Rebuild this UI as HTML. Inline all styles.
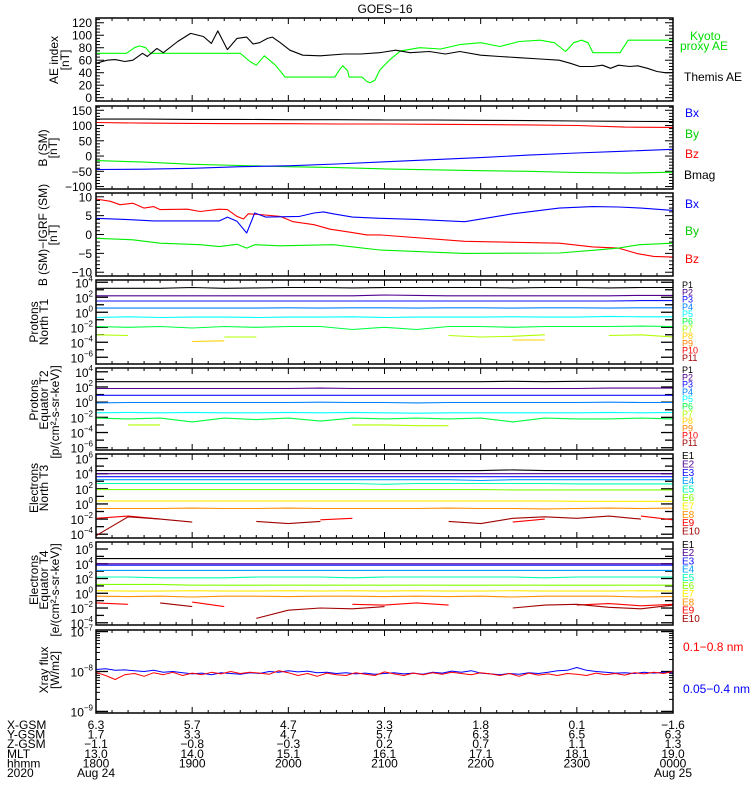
<!DOCTYPE html>
<html><head><meta charset="utf-8"><style>
html,body{margin:0;padding:0;background:#fff;}
svg{display:block;font-family:"Liberation Sans",sans-serif;}
</style></head><body>
<svg id="c" width="750" height="800" xmlns="http://www.w3.org/2000/svg">
<rect width="750" height="800" fill="#fff"/>
<text x="385" y="13" font-size="12" text-anchor="middle">GOES−16</text>
</svg>
<script>
// ---------- data ----------
const aeThemisMin=[0,7,12,18,23,29,32,38,42,51,59,67,72,76,82,88,94,98,102,107,110,115,121,129,140,155,165,177,187,196,208,218,227,240,252,264,277,289,296,302,310,316,321,326,333,338,344,350,355,360];
const aeThemisVal=[55,60,61,58,60,71,66,79,72,90,103,98,87,107,77,95,97,86,88,95,97,88,76,68,67,70,70,72,76,72,74,70,74,68,66,64,62,60,55,50,50,52,47,52,50,51,47,42,40,40];
const aeKyotoMin=[0,19,24,27,31,34,90,96,100,105,112,118,149,152,154,157,158,166,169,171,174,177,183,190,202,215,227,240,252,264,277,286,289,293,298,303,307,310,327,332,360];
const aeKyotoVal=[71,71,80,83,80,71,71,58,52,67,52,33,33,45,51,43,33,33,26,24,28,44,60,75,80,78,85,88,82,90,92,88,82,74,88,92,88,72,72,92,92];
const bMin=[0,30,60,90,120,150,180,210,240,270,300,330,360];
const bmagVal=[121,121,120,120,119,119,118,118,117,116,115,114,113];
const bzVal=[110,108,107,106,106,105,105,104,103,102,100,95,94];
const bxVal=[-44,-43,-40,-35,-32,-26,-19,-12,-5,3,10,16,22];
const byVal=[-15,-20,-27,-31,-35,-38,-42,-45,-48,-50,-54,-56,-53];
const dBzMin=[0,9,15,23,30,36,40,57,65,77,82,88,92,95,102,115,123,136,146,160,169,177,230,289,310,326,338,348,360];
const dBzVal=[9.4,8.8,7.9,8.3,7,7.4,6.6,6.7,6.1,6.7,6.6,4.8,4.1,5.5,5.3,4.8,3.4,2.6,1.4,0.5,-0.1,-0.1,-1.8,-2.3,-3.3,-3.6,-5.1,-5.8,-6];
const dBxMin=[0,23,36,77,82,88,94,99,106,127,136,142,148,160,177,200,230,260,289,310,326,340,360];
const dBxVal=[4.3,3.9,3.6,3.6,4.6,3.5,0.4,5.7,4.6,4.8,5.7,6,5.5,4.6,4.3,4,3.4,5.5,7,7.4,7.3,7,6.4];
const dByMin=[0,23,40,65,77,88,94,99,115,148,177,230,289,310,326,339,360];
const dByVal=[-1,-1.4,-2.3,-2.7,-3.2,-2.6,-3.6,-2.7,-3,-2.7,-4.1,-5,-4.9,-4.2,-3.6,-2.7,-2.3];
const pMin=[0,20,40,60,80,100,120,140,160,180,200,220,240,260,280,300,320,340,360];
const t1P1=[3.2,3.2,3.2,3.3,3.2,3.25,3.3,3.3,3.25,3.3,3.3,3.3,3.3,3.25,3.3,3.3,3.25,3.3,3.3];
const t1P2=[2.2,2.2,2.2,2.2,2.2,2.2,2.2,2.2,2.2,2.3,2.25,2.2,2.2,2.2,2.2,2.2,2.2,2.25,2.25];
const t1P3=[1.5,1.5,1.5,1.5,1.5,1.5,1.5,1.5,1.5,1.5,1.5,1.5,1.5,1.5,1.5,1.5,1.5,1.55,1.55];
const t1P4=[0.55,0.55,0.55,0.55,0.55,0.55,0.6,0.55,0.6,0.6,0.55,0.6,0.6,0.55,0.6,0.6,0.55,0.6,0.6];
const t1P5=[-0.7,-0.6,-0.7,-0.65,-0.65,-0.7,-0.65,-0.65,-0.6,-0.7,-0.65,-0.65,-0.65,-0.6,-0.65,-0.65,-0.55,-0.6,-0.6];
const t1P6=[-1.9,-2.0,-1.9,-2.1,-1.9,-2.0,-1.9,-1.9,-2.3,-2.0,-2.3,-1.9,-1.9,-2.0,-1.9,-1.9,-1.9,-1.85,-1.9];
const t1P7=[-3.0,-3.1,null,null,-3.3,-3.3,null,null,-3.3,null,null,-3.1,-3.3,-3.2,-3.0,null,-3.1,-3.0,-3.3];
const t1P8=[null,null,null,-3.9,-3.8,null,null,-3.9,null,null,null,null,null,-3.7,-3.7,null,null,null,null];
const t2P1=[2.7,2.7,2.7,2.7,2.7,2.7,2.7,2.7,2.7,2.7,2.7,2.7,2.7,2.75,2.7,2.75,2.75,2.75,2.75];
const t2P2=[1.8,1.8,1.8,1.8,1.8,1.8,1.8,1.85,1.8,1.8,1.8,1.8,1.8,1.8,1.8,1.8,1.85,1.85,1.85];
const t2P3=[0.9,0.9,0.9,0.9,0.9,0.9,0.9,0.9,0.9,0.9,0.9,0.9,0.9,0.9,0.9,0.9,0.9,0.9,0.9];
const t2P4=[-0.1,-0.05,-0.05,-0.05,-0.05,-0.05,-0.05,0.0,-0.05,-0.05,-0.1,-0.05,-0.05,-0.05,-0.05,-0.05,0.0,-0.05,-0.05];
const t2P5=[-1.4,-1.35,-1.4,-1.35,-1.4,-1.4,-1.35,-1.4,-1.35,-1.4,-1.45,-1.4,-1.4,-1.4,-1.4,-1.4,-1.35,-1.4,-1.35];
const t2P6=[-2.1,-2.2,-2.1,-2.6,-2.1,-2.3,-2.1,-2.5,-2.1,-2.2,-2.1,-2.2,-2.1,-2.6,-2.1,-2.2,-2.2,-2.1,-2.2];
const t2P7=[null,-3.0,-3.0,null,null,-3.0,null,null,-3.0,-3.0,-3.1,-3.1,null,-3.0,null,null,null,null,null];
const t2P8=[null,null,null,-3.6,null,null,-3.6,null,null,null,null,null,null,null,null,null,-3.6,null,null];
const t3E1=[4.4,4.4,4.4,4.4,4.4,4.4,4.4,4.4,4.4,4.4,4.4,4.4,4.4,4.5,4.4,4.4,4.4,4.4,4.4];
const t3E2=[4.0,4.0,4.0,4.0,4.0,4.0,4.0,4.0,4.0,4.0,4.0,4.0,4.0,4.0,4.0,4.0,4.0,4.0,4.0];
const t3E3=[3.6,3.6,3.6,3.6,3.6,3.6,3.6,3.6,3.6,3.6,3.6,3.6,3.6,3.6,3.6,3.6,3.6,3.6,3.6];
const t3E4=[3.2,3.2,3.2,3.2,3.2,3.2,3.2,3.2,3.2,3.2,3.2,3.2,3.1,3.2,3.2,3.2,3.2,3.2,3.2];
const t3E5=[2.7,2.7,2.7,2.7,2.7,2.7,2.7,2.7,2.7,2.6,2.7,2.7,2.7,2.7,2.7,2.65,2.65,2.65,2.65];
const t3E6=[1.9,1.9,1.9,1.9,1.9,1.9,1.9,1.9,1.9,1.9,1.9,1.9,1.9,1.85,1.85,1.85,1.85,1.85,1.85];
const t3E7=[0.4,0.4,0.4,0.4,0.4,0.4,0.4,0.4,0.4,0.4,0.4,0.4,0.4,0.4,0.4,0.35,0.35,0.35,0.35];
const t3E8=[-0.6,-0.6,-0.6,-0.55,-0.6,-0.6,-0.55,-0.6,-0.6,-0.6,-0.6,-0.55,-0.6,-0.6,-0.65,-0.6,-0.55,-0.6,-0.55];
const t3E9=[-1.9,-1.6,-2.0,null,null,null,null,-2.1,-1.9,null,-2.3,null,null,-2.4,-2.0,null,null,-1.6,-2.1];
const t3E10=[-4.2,-1.7,-2.0,-2.4,null,-2.3,-2.6,-2.3,null,null,null,-2.3,-2.6,-1.9,-1.7,-1.9,-1.6,-2.0,null];
const t4E1=[4.7,4.7,4.7,4.7,4.7,4.7,4.7,4.7,4.7,4.7,4.7,4.7,4.7,4.7,4.7,4.7,4.7,4.7,4.7];
const t4E2=[4.0,4.0,4.0,4.0,4.0,4.0,4.0,4.0,4.0,4.0,4.0,4.0,4.0,4.0,4.0,4.0,4.0,4.0,4.0];
const t4E3=[3.8,3.8,3.8,3.8,3.8,3.8,3.8,3.8,3.8,3.8,3.8,3.8,3.8,3.8,3.8,3.8,3.8,3.8,3.8];
const t4E4=[3.1,3.1,3.1,3.1,3.1,3.1,3.1,3.1,3.1,3.1,3.1,3.1,3.1,3.1,3.1,3.1,3.1,3.1,3.1];
const t4E5=[2.2,2.2,2.1,2.1,2.1,2.2,2.2,2.2,2.1,2.2,2.2,2.2,2.2,2.2,2.1,2.2,2.2,2.2,2.2];
const t4E6=[1.2,1.2,1.2,1.1,1.1,1.1,1.1,1.1,1.1,1.1,1.1,1.1,1.1,1.1,1.1,1.1,1.1,1.1,1.1];
const t4E7=[0.35,0.3,0.3,0.35,0.3,0.3,0.35,0.3,0.35,0.3,0.35,0.3,0.3,0.35,0.3,0.3,0.3,0.35,0.3];
const t4E8=[-0.4,-0.45,-0.4,-0.5,-0.4,-0.4,-0.45,-0.4,-0.4,-0.45,-0.4,-0.45,-0.4,-0.5,-0.4,-0.4,-0.4,-0.5,-0.45];
const t4E9=[-1.3,-1.5,null,-1.2,-1.8,null,null,null,-1.5,-1.6,-1.3,-1.6,null,-1.8,null,-1.6,-1.4,-1.7,-1.5];
const t4E10=[-1.6,null,-1.3,-1.8,null,-3.4,-2.3,-2.0,-2.1,-1.8,null,-2.6,null,-2.0,-1.6,-1.5,-1.9,-2.1,-1.6];
const xMin=[];for(let i=0;i<=60;i++)xMin.push(i*6);
const xrayLong=[-8.02,-8.1,-8.2,-8.08,-8.05,-8.12,-8.03,-8.08,-8.02,-8.1,-8.04,-8.08,-8.02,-8.06,-8.0,-8.05,-8.02,-8.04,-8.07,-7.98,-8.03,-8.1,-8.05,-8.12,-8.04,-8.08,-8.1,-8.03,-8.07,-8.1,-8.01,-8.06,-8.1,-8.04,-8.08,-8.03,-8.07,-8.02,-8.05,-8.08,-8.03,-8.06,-8.1,-8.05,-8.12,-8.04,-8.09,-8.06,-8.1,-8.05,-8.07,-8.1,-8.04,-8.08,-8.05,-8.09,-8.03,-8.06,-8.02,-8.05,-8.0];
const xrayShort=[-7.95,-7.93,-7.97,-7.96,-7.98,-8.0,-7.97,-8.02,-8.0,-8.03,-8.06,-8.04,-8.08,-8.03,-8.05,-8.07,-8.03,-8.05,-8.0,-8.02,-7.98,-8.01,-7.99,-8.03,-8.02,-8.05,-8.03,-8.06,-8.04,-8.07,-8.05,-8.03,-8.06,-8.04,-8.07,-8.02,-8.04,-7.99,-8.02,-7.98,-8.04,-8.06,-8.08,-8.05,-8.07,-8.03,-8.05,-8.02,-7.98,-7.97,-7.9,-7.97,-8.0,-8.02,-8.04,-8.03,-8.05,-8.02,-8.04,-8.02,-8.03];
const hourLabels=["1800","1900","2000","2100","2200","2300","0000"];
const xgsm=["6.3","5.7","4.7","3.3","1.8","0.1","−1.6"];
const ygsm=["1.7","3.3","4.7","5.7","6.3","6.5","6.3"];
const zgsm=["−1.1","−0.8","−0.3","0.2","0.7","1.1","1.3"];
const mlt=["13.0","14.0","15.1","16.1","17.1","18.1","19.0"];

// ---------- drawing ----------
const svg=document.getElementById('c');
const NS='http://www.w3.org/2000/svg';
const X0=96,X1=673;
const xs=m=>X0+(X1-X0)*m/360;
function el(tag,attrs,parent){const e=document.createElementNS(NS,tag);for(const k in attrs)e.setAttribute(k,attrs[k]);(parent||svg).appendChild(e);return e;}
function txt(x,y,s,size,color,anchor,parent){const t=el('text',{x:x,y:y,'font-size':size,fill:color||'#000','text-anchor':anchor||'start'},parent);t.textContent=s;return t;}

function panel(name,top,bot,ymin,ymax,log){
  const g=el('g',{});
  
  
  const ys=v=>bot-(bot-top)*((v-ymin)/(ymax-ymin));
  for(let m=0;m<=360;m+=10){const x=xs(m);const L=(m%60===0)?6:3;
    el('line',{x1:x,y1:bot,x2:x,y2:bot-L,stroke:'#000','stroke-width':1},g);
    el('line',{x1:x,y1:top,x2:x,y2:top+L,stroke:'#000','stroke-width':1},g);}
  return {g,ys,top,bot,ymin,ymax};
}
function frame(p){el('rect',{x:X0,y:p.top,width:X1-X0,height:p.bot-p.top,fill:'none',stroke:'#000','stroke-width':1.5},p.g);}
function yTicksLin(p,major,minor,labelStep){
  const start=Math.ceil(p.ymin/minor)*minor;
  for(let v=start;v<=p.ymax+1e-9;v+=minor){const y=p.ys(v);const isM=Math.abs(v/major-Math.round(v/major))<1e-6;const L=isM?8:4;
    el('line',{x1:X0,y1:y,x2:X0+L,y2:y,stroke:'#000'},p.g);el('line',{x1:X1,y1:y,x2:X1-L,y2:y,stroke:'#000'},p.g);
    if(Math.abs(v/labelStep-Math.round(v/labelStep))<1e-6){const lab=txt(X0-4,y+4.5,String(Math.round(v)).replace('-','−'),12,'#000','end',p.g);
      
      }}
}
function yTicksLog(p,labels,minorLog){
  for(let d=Math.ceil(p.ymin);d<=Math.floor(p.ymax);d++){const y=p.ys(d);const lab=labels.includes(d);const L=lab?12:8;
    el('line',{x1:X0,y1:y,x2:X0+L,y2:y,stroke:'#000','stroke-width':1.3},p.g);el('line',{x1:X1,y1:y,x2:X1-L,y2:y,stroke:'#000','stroke-width':1.3},p.g);
    if(minorLog){for(let k=2;k<=9;k++){const yy=p.ys(d+Math.log10(k));if(yy<p.top)continue;el('line',{x1:X0,y1:yy,x2:X0+4,y2:yy,stroke:'#000'},p.g);el('line',{x1:X1,y1:yy,x2:X1-4,y2:yy,stroke:'#000'},p.g);}}
    if(lab){const t=el('text',{x:X0-3,y:y+5,'font-size':12,'text-anchor':'end'},p.g);
      
      
      const a=el('tspan',{},t);a.textContent='10';const b=el('tspan',{dy:-6,'font-size':8},t);b.textContent=String(d).replace('-','−');}}
}
function series(p,name,mins,vals,color,w){
  let segs=[],cur=[];
  for(let i=0;i<vals.length;i++){if(vals[i]===null){if(cur.length)segs.push(cur);cur=[];continue;}
    cur.push(xs(mins[i]).toFixed(1)+','+p.ys(vals[i]).toFixed(1));}
  if(cur.length)segs.push(cur);
  segs.forEach(s=>{if(s.length<2)return;const l=el('polyline',{points:s.join(' '),fill:'none',stroke:color,'stroke-width':w||1.1,'stroke-linejoin':'round'},p.g);
    
    });
}
function ytitle(lines,cx,cy,xs0){lines.forEach((s,i)=>{const t=txt(0,0,s,12,'#000','middle');t.setAttribute('transform','translate('+xs0[i]+','+cy[i]+') rotate(-90)');
  
  });}
function legend(items){items.forEach(it=>{const t=txt(it[1],it[2],it[0],it[4]||11,it[3],'start');
  
  });}

let p=panel('ae-panel',18,101,-5.3,127.6,false);
yTicksLin(p,20,5,20);
series(p,'kyoto-ae-line',aeKyotoMin,aeKyotoVal,'#00ff00');
series(p,'themis-ae-line',aeThemisMin,aeThemisVal,'#000');
frame(p);
ytitle(['AE index','[nT]'],0,[60,60],[58,69]);
legend([['Kyoto',690,40,'#00dd00',12],['proxy AE',680,50,'#00dd00',12],['Themis AE',684,81,'#000',12]]);

p=panel('b-sm-panel',106,189,-108,164,false);
yTicksLin(p,50,10,50);
series(p,'bmag-line',bMin,bmagVal,'#000');
series(p,'bz-line',bMin,bzVal,'#ff0000');
series(p,'by-line',bMin,byVal,'#00ee00');
series(p,'bx-line',bMin,bxVal,'#0000ff');
frame(p);
ytitle(['B (SM)','[nT]'],0,[148,148],[47,57]);
legend([['Bx',685,117,'#0000ff',12],['By',685,138,'#00cc00',12],['Bz',685,158,'#ff0000',12],['Bmag',684,179,'#000',12]]);

p=panel('b-igrf-panel',193,276,-11,11,false);
yTicksLin(p,5,1,5);
series(p,'dbz-line',dBzMin,dBzVal,'#ff0000');
series(p,'dbx-line',dBxMin,dBxVal,'#0000ff');
series(p,'dby-line',dByMin,dByVal,'#00ee00');
frame(p);
ytitle(['B (SM)−IGRF (SM)','[nT]'],0,[235,235],[47,57]);
legend([['Bx',685,208,'#0000ff',12],['By',685,235,'#00cc00',12],['Bz',685,263,'#ff0000',12]]);

const pCols=['#000','#500090','#1010ff','#0080ff','#00ffff','#00ff40','#b0ff00','#ffd000','#ff8000','#ff0000','#a00000'];
const eCols=['#000','#500090','#1010ff','#00a0ff','#00ffb0','#80ff00','#ffee00','#ff9000','#ff0000','#a00000'];

p=panel('protons-t1-panel',280,364,-6.9,4.3,true);
yTicksLog(p,[4,2,0,-2,-4,-6],false);
[t1P1,t1P2,t1P3,t1P4,t1P5,t1P6,t1P7,t1P8].forEach((a,i)=>series(p,'t1-p'+(i+1)+'-line',pMin,a,pCols[i]));
frame(p);
ytitle(['Protons','North T1'],0,[322,322],[38,48]);
legend(pCols.map((c,i)=>['P'+(i+1),682,288+i*7.3,c,9]));

p=panel('protons-t2-panel',368,450,-6.3,4.5,true);
yTicksLog(p,[4,2,0,-2,-4,-6],false);
[t2P1,t2P2,t2P3,t2P4,t2P5,t2P6,t2P7,t2P8].forEach((a,i)=>series(p,'t2-p'+(i+1)+'-line',pMin,a,pCols[i]));
frame(p);
ytitle(['Protons','Equator T2','[p/(cm²-s-sr-keV)]'],0,[400,400,412],[38,48,59]);
legend(pCols.map((c,i)=>['P'+(i+1),682,373+i*7.3,c,9]));

p=panel('electrons-t3-panel',454,538,-4.5,6.6,true);
yTicksLog(p,[6,4,2,0,-2,-4],false);
[t3E1,t3E2,t3E3,t3E4,t3E5,t3E6,t3E7,t3E8,t3E9,t3E10].forEach((a,i)=>series(p,'t3-e'+(i+1)+'-line',pMin,a,eCols[i]));
frame(p);
ytitle(['Electrons','North T3'],0,[488,488],[38,48]);
legend(eCols.map((c,i)=>['E'+(i+1),682,459+i*8.4,c,10]));

p=panel('electrons-t4-panel',542,625,-4.3,6.95,true);
yTicksLog(p,[6,4,2,0,-2,-4],false);
[t4E1,t4E2,t4E3,t4E4,t4E5,t4E6,t4E7,t4E8,t4E9,t4E10].forEach((a,i)=>series(p,'t4-e'+(i+1)+'-line',pMin,a,eCols[i]));
frame(p);
ytitle(['Electrons','Equator T4','[e/(cm²-s-sr-keV)]'],0,[580,580,590],[38,48,59]);
legend(eCols.map((c,i)=>['E'+(i+1),682,548+i*8.2,c,10]));

p=panel('xray-panel',630,713,-9.04,-6.96,true);
yTicksLog(p,[-7,-8,-9],true);
series(p,'xray-short-line',xMin,xrayShort,'#0000ff',1);
series(p,'xray-long-line',xMin,xrayLong,'#ff0000',1);
frame(p);
ytitle(['Xray flux','[W/m2]'],0,[670,670],[48,59]);
legend([['0.1−0.8 nm',683,651,'#ff0000',12],['0.05−0.4 nm',683,693,'#0000ff',12]]);

const rows=[['X-GSM',xgsm],['Y-GSM',ygsm],['Z-GSM',zgsm],['MLT',mlt],['hhmm',hourLabels]];
rows.forEach((r,ri)=>{const y=729+ri*9.6;
  const h=txt(7,y,r[0],12,'#000','start');
  r[1].forEach((v,i)=>{const t=txt(xs(i*60),y,v,12,'#000','middle');});});
let t=txt(7,777,'2020',12,'#000','start');
t=txt(xs(0),777,'Aug 24',12,'#000','middle');
t=txt(xs(360),777,'Aug 25',12,'#000','middle');
</script>
</body></html>
